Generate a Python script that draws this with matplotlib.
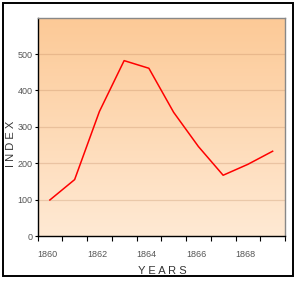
import numpy as np
import matplotlib
matplotlib.use("Agg")
import matplotlib.pyplot as plt
from matplotlib.patches import Rectangle
from matplotlib.colors import LinearSegmentedColormap

plt.rcParams['font.family'] = ['Liberation Sans', 'DejaVu Sans']

# ---- data ----
years = [1860, 1861, 1862, 1863, 1864, 1865, 1866, 1867, 1868, 1869]
index_values = [99, 155, 342, 482, 461, 340, 246, 167, 197, 233]
x_ticks = [1860, 1861, 1862, 1863, 1864, 1865, 1866, 1867, 1868, 1869, 1870]
x_tick_labels = ['1860', '', '1862', '', '1864', '', '1866', '', '1868', '', '']
y_ticks = [0, 100, 200, 300, 400, 500]
y_tick_labels = ['0', '100', '200', '300', '400', '500']

fig = plt.figure(figsize=(3.0, 2.84), dpi=100)
fig.patch.set_facecolor('white')
ax = fig.add_axes([0.125, 0.169, 0.825, 0.7687])

# gradient background
cmap = LinearSegmentedColormap.from_list('bg', [(1.0, 0.915, 0.83), (0.99, 0.79, 0.59)])
grad = np.linspace(0, 1, 256).reshape(-1, 1)
ax.imshow(grad, cmap=cmap, origin='lower', aspect='auto',
          extent=[1860, 1870, 0, 600], zorder=0)

ax.set_xlim(1860, 1870)
ax.set_ylim(0, 600)

for yv in y_ticks[1:]:
    ax.axhline(yv, color=(0.72, 0.5, 0.35), alpha=0.28, lw=0.9, zorder=1)

xs = np.array(years) + 0.5
ax.plot(xs, index_values, color='#ff0000', lw=1.1, zorder=3)

ax.set_xticks(x_ticks)
ax.set_xticklabels(x_tick_labels, ha='left', fontsize=6.5, color='#555555')
ax.set_yticks(y_ticks)
ax.set_yticklabels(y_tick_labels, fontsize=6.5, color='#555555', va='center_baseline')
ax.tick_params(axis='x', direction='out', length=3.5, width=0.8, color='black', pad=6.5)
ax.tick_params(axis='y', direction='out', length=2.5, width=0.8, color='black', pad=1)

ax.spines['left'].set_color('black')
ax.spines['bottom'].set_color('black')
ax.spines['left'].set_linewidth(1.0)
ax.spines['bottom'].set_linewidth(1.0)
ax.spines['top'].set_color('#888888')
ax.spines['right'].set_color('#888888')
ax.spines['top'].set_linewidth(1.0)
ax.spines['right'].set_linewidth(1.0)

fig.text(162 / 300, 1 - 271 / 284, 'Y E A R S', fontsize=8, color='#333333',
         ha='center', va='center')
fig.text(11 / 300, 1 - 144 / 284, 'I N D E X', fontsize=8, color='#333333',
         ha='center', va='center', rotation=90)

fig.patches.append(Rectangle((3 / 300, 1 - 276 / 284), 290 / 300, 273 / 284,
                             transform=fig.transFigure, fill=False,
                             edgecolor='black', lw=1.4))

fig.savefig('out.png', dpi=100)
